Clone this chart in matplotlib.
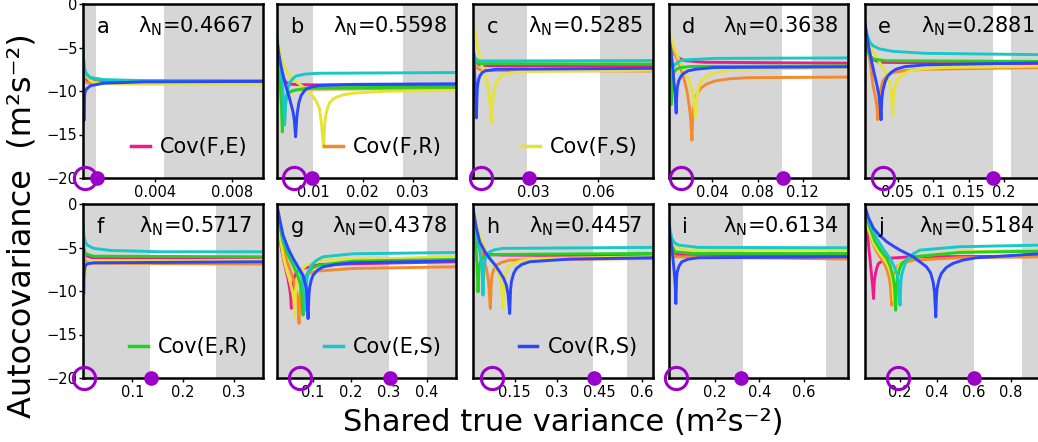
import matplotlib.pyplot as plt
from matplotlib.lines import Line2D

# series shared by every panel
pairs = ["FE", "FR", "FS", "ER", "ES", "RS"]
pair_labels = ["Cov(F,E)", "Cov(F,R)", "Cov(F,S)", "Cov(E,R)", "Cov(E,S)", "Cov(R,S)"]
pair_colors = ["#f0198c", "#f58a2c", "#e6e23a", "#23d21e", "#18c8c8", "#2a46ff"]

letters = ["a", "b", "c", "d", "e", "f", "g", "h", "i", "j"]
lambda_n = ["0.4667", "0.5598", "0.5285", "0.3638", "0.2881",
            "0.5717", "0.4378", "0.4457", "0.6134", "0.5184"]
x_limits = [(0.00026, 0.0096), (0.0028, 0.0388), (0.0023, 0.0851), (0.0012, 0.160),
            (0.0033, 0.256), (0.003, 0.356), (0.0047, 0.479), (0.002, 0.639),
            (-0.0067, 0.798), (0.008, 0.979)]
x_ticks = [[0.004, 0.008], [0.01, 0.02, 0.03], [0.03, 0.06], [0.04, 0.08, 0.12],
           [0.05, 0.1, 0.15, 0.2], [0.1, 0.2, 0.3], [0.1, 0.2, 0.3, 0.4],
           [0.15, 0.3, 0.45, 0.6], [0.2, 0.4, 0.6], [0.2, 0.4, 0.6, 0.8]]
x_tick_labels = [["0.004", "0.008"], ["0.01", "0.02", "0.03"], ["0.03", "0.06"],
                 ["0.04", "0.08", "0.12"], ["0.05", "0.1", "0.15", "0.2"],
                 ["0.1", "0.2", "0.3"], ["0.1", "0.2", "0.3", "0.4"],
                 ["0.15", "0.3", "0.45", "0.6"], ["0.2", "0.4", "0.6"],
                 ["0.2", "0.4", "0.6", "0.8"]]
# unshaded interval of each panel
white_bands = [(0.00093, 0.00447), (0.0100, 0.0280), (0.0274, 0.0609), (0.102, 0.128),
               (0.184, 0.209), (0.135, 0.264), (0.30, 0.40), (0.429, 0.55),
               (0.328, 0.70), (0.60, 0.858)]
open_mark = [0.00038, 0.0063, 0.0062, 0.0119, 0.0299, 0.0043, 0.0665, 0.0707, 0.0277, 0.191]
filled_mark = [0.00097, 0.0099, 0.0282, 0.1028, 0.1841, 0.1363, 0.303, 0.4306, 0.3198, 0.603]
# panel letter -> series named in its legend
legend_pair = {"a": 0, "b": 1, "c": 2, "f": 3, "g": 4, "h": 5}

curves_a = {
    "FE": ([0.00026, 0.00033, 0.00043, 0.00064, 0.00134, 0.0096],
           [-7.2, -8.3, -8.7, -8.9, -9.0, -9.0]),
    "FR": ([0.00026, 0.00033, 0.00043, 0.00064, 0.00134, 0.0096],
           [-7.8, -8.7, -9.0, -9.1, -9.15, -9.15]),
    "FS": ([0.00026, 0.00031, 0.00043, 0.00064, 0.00082, 0.00134, 0.0034, 0.0096],
           [-6.8, -7.6, -8.3, -8.8, -9.0, -9.15, -9.2, -9.2]),
    "ER": ([0.00026, 0.00029, 0.00033, 0.00043, 0.00064, 0.00134, 0.0034, 0.0096],
           [-4.8, -6.2, -7.3, -8.0, -8.5, -8.75, -8.85, -8.9]),
    "ES": ([0.00026, 0.00029, 0.00033, 0.00043, 0.00064, 0.00134, 0.0034, 0.0096],
           [-5.6, -6.6, -7.5, -8.1, -8.45, -8.7, -8.8, -8.8]),
    "RS": ([0.00026, 0.00029, 0.00031, 0.00033, 0.00036, 0.00043, 0.00064, 0.00134, 0.0034, 0.0096],
           [-6.6, -10.0, -13.4, -11.0, -10.2, -9.8, -9.4, -9.1, -8.95, -8.9]),
}
curves_b = {
    "FE": ([0.0028, 0.0034, 0.0040, 0.0046, 0.00533, 0.007, 0.01133, 0.03867],
           [-5.4, -7.4, -8.5, -9.0, -9.2, -9.27, -9.3, -9.3]),
    "FR": ([0.0028, 0.0032, 0.00367, 0.0040, 0.00427, 0.00445, 0.00467, 0.005, 0.00533, 0.0065, 0.008, 0.03867],
           [-5.0, -7.2, -9.2, -10.8, -13.3, -11.6, -10.8, -10.35, -10.1, -9.9, -9.8, -9.7]),
    "FS": ([0.0028, 0.0034, 0.0040, 0.0050, 0.0060, 0.0073, 0.00867, 0.0097, 0.01067, 0.0113, 0.01167,
            0.01213, 0.01235, 0.01253, 0.0129, 0.01333, 0.014, 0.01467, 0.016, 0.018, 0.02467, 0.03867],
           [-3.8, -5.6, -6.9, -8.0, -8.66, -9.2, -9.83, -10.4, -11.18, -12.0, -13.5,
            -16.43, -14.0, -12.93, -12.0, -11.38, -10.95, -10.72, -10.45, -10.25, -10.02, -9.94]),
    "ER": ([0.0028, 0.0031, 0.00347, 0.0037, 0.00387, 0.004, 0.00413, 0.0044, 0.00467, 0.0052, 0.0060, 0.00933, 0.03867],
           [-4.6, -7.0, -9.6, -11.8, -14.7, -12.9, -12.0, -11.1, -10.6, -10.2, -9.94, -9.63, -9.55]),
    "ES": ([0.0028, 0.0033, 0.00387, 0.0041, 0.00433, 0.0045, 0.00467, 0.0050, 0.00533, 0.006, 0.00667, 0.0085, 0.01133, 0.03867],
           [-3.8, -6.5, -9.24, -11.0, -13.9, -11.8, -10.8, -9.8, -9.05, -8.55, -8.27, -8.05, -7.96, -7.88]),
    "RS": ([0.0028, 0.0032, 0.00367, 0.0042, 0.00467, 0.0053, 0.0060, 0.0063, 0.00653, 0.0068, 0.0072,
            0.00767, 0.0082, 0.00867, 0.0100, 0.01133, 0.018, 0.03867],
           [-4.2, -5.9, -7.3, -8.6, -9.63, -10.8, -12.35, -13.5, -15.26, -12.8, -11.3,
            -10.49, -10.05, -9.79, -9.5, -9.36, -9.24, -9.17]),
}
curves_c = {
    "FE": ([0.0023, 0.003, 0.00385, 0.00539, 0.01, 0.0851], [-5.4, -6.2, -6.7, -7.0, -7.1, -7.15]),
    "FR": ([0.0023, 0.003, 0.00385, 0.0055, 0.01, 0.0851], [-6.1, -6.9, -7.3, -7.55, -7.65, -7.7]),
    "FS": ([0.00262, 0.0032, 0.00385, 0.0046, 0.00539, 0.0065, 0.0077, 0.0088, 0.0097, 0.0103, 0.01077,
            0.0111, 0.01154, 0.0122, 0.01308, 0.0145, 0.0162, 0.02, 0.02385, 0.0851],
           [-1.9, -3.2, -4.2, -5.2, -6.1, -7.2, -8.1, -9.0, -10.4, -11.8, -13.7,
            -12.0, -10.8, -9.8, -9.05, -8.5, -8.16, -7.9, -7.77, -7.6]),
    "ER": ([0.0023, 0.003, 0.00385, 0.0055, 0.0851], [-5.75, -6.4, -6.7, -6.85, -6.9]),
    "ES": ([0.0023, 0.0027, 0.00309, 0.004, 0.00539, 0.01, 0.0851], [-5.0, -5.7, -6.1, -6.4, -6.55, -6.55, -6.5]),
    "RS": ([0.0023, 0.0026, 0.00293, 0.00325, 0.00355, 0.00385, 0.0041, 0.00431, 0.0048, 0.00539, 0.0065,
            0.0077, 0.01308, 0.0851],
           [-4.2, -5.6, -7.3, -9.0, -11.2, -13.1, -10.9, -9.6, -8.8, -8.3, -7.9, -7.7, -7.5, -7.4]),
}
curves_d = {
    "FE": ([0.0012, 0.003, 0.00652, 0.01, 0.0154, 0.0332, 0.160], [-3.4, -4.7, -5.75, -6.2, -6.5, -6.7, -6.8]),
    "FR": ([0.0012, 0.005, 0.00948, 0.0125, 0.0154, 0.0178, 0.01985, 0.0209, 0.02193, 0.0225, 0.02311,
            0.0242, 0.02578, 0.028, 0.03022, 0.035, 0.04207, 0.055, 0.0717, 0.160],
           [-3.4, -5.2, -6.5, -7.6, -8.85, -10.2, -12.0, -13.3, -15.65, -13.5, -12.35,
            -11.3, -10.6, -10.0, -9.63, -9.2, -8.85, -8.6, -8.47, -8.4]),
    "FS": ([0.0012, 0.005, 0.00948, 0.014, 0.01837, 0.0208, 0.02281, 0.0239, 0.02489, 0.0254, 0.02607,
            0.0278, 0.03022, 0.035, 0.04207, 0.055, 0.0717, 0.160],
           [-2.64, -4.6, -6.14, -7.4, -8.47, -9.3, -10.4, -11.4, -12.93, -11.6, -10.8,
            -9.6, -8.85, -8.3, -7.88, -7.65, -7.5, -7.3]),
    "ER": ([0.0012, 0.0018, 0.00237, 0.003, 0.00356, 0.0041, 0.00474, 0.006, 0.008, 0.012, 0.02133, 0.160],
           [-3.8, -5.5, -7.3, -9.2, -11.57, -9.6, -8.47, -7.9, -7.5, -7.3, -7.18, -7.11]),
    "ES": ([0.0012, 0.00356, 0.00504, 0.00652, 0.01244, 0.04207, 0.160],
           [-3.0, -5.75, -7.3, -7.0, -6.45, -6.25, -6.2]),
    "RS": ([0.0012, 0.0024, 0.00356, 0.0048, 0.00593, 0.007, 0.008, 0.0084, 0.00889, 0.0103, 0.01244,
            0.015, 0.01837, 0.025, 0.04207, 0.160],
           [-3.2, -4.6, -5.75, -7.2, -8.85, -10.4, -12.54, -10.8, -9.63, -8.8, -8.27,
            -7.95, -7.69, -7.5, -7.3, -7.22]),
}
curves_e = {
    "FE": ([0.0033, 0.0068, 0.0103, 0.016, 0.0243, 0.256], [-3.4, -4.9, -5.9, -6.4, -6.7, -6.9]),
    "FR": ([0.0033, 0.0068, 0.0103, 0.0127, 0.015, 0.0174, 0.0196, 0.021, 0.022, 0.023, 0.0243,
            0.0265, 0.029, 0.035, 0.043, 0.06, 0.0897, 0.256],
           [-3.0, -4.8, -6.1, -7.6, -9.24, -10.2, -11.2, -12.0, -13.3, -11.6, -10.8,
            -9.7, -8.85, -8.25, -7.88, -7.65, -7.5, -7.3]),
    "FS": ([0.0033, 0.009, 0.015, 0.022, 0.029, 0.034, 0.0383, 0.041, 0.043, 0.0438, 0.0449,
            0.047, 0.05, 0.057, 0.0664, 0.085, 0.1131, 0.256],
           [-3.0, -4.4, -5.36, -6.4, -7.3, -8.0, -8.85, -10.0, -12.93, -11.0, -10.0,
            -9.3, -8.66, -8.1, -7.69, -7.45, -7.3, -7.15]),
    "ER": ([0.0033, 0.0055, 0.008, 0.011, 0.015, 0.0336, 0.256], [-2.64, -4.3, -5.36, -5.95, -6.33, -6.52, -6.6]),
    "ES": ([0.0033, 0.0055, 0.008, 0.011, 0.015, 0.0243, 0.043, 0.0897, 0.256],
           [-1.86, -3.0, -3.8, -4.4, -4.78, -5.16, -5.44, -5.67, -5.83]),
    "RS": ([0.0033, 0.0068, 0.0103, 0.0138, 0.0173, 0.0205, 0.0234, 0.0252, 0.0266, 0.0276, 0.029,
            0.032, 0.036, 0.041, 0.0477, 0.06, 0.0897, 0.256],
           [-1.86, -3.8, -5.36, -6.8, -8.08, -9.2, -10.4, -11.5, -13.3, -11.0, -10.0,
            -9.0, -8.27, -7.85, -7.5, -7.2, -6.99, -6.76]),
}
curves_f = {
    "FE": ([0.003, 0.0076, 0.02, 0.356], [-4.7, -5.9, -6.15, -6.26]),
    "FR": ([0.003, 0.0076, 0.02, 0.356], [-5.1, -6.6, -6.8, -6.9]),
    "FS": ([0.003, 0.0037, 0.0043, 0.005, 0.0056, 0.0062, 0.0069, 0.0085, 0.0109, 0.02, 0.0571, 0.356],
           [-5.5, -6.5, -7.8, -8.9, -10.5, -8.6, -7.8, -7.2, -6.83, -6.65, -6.56, -6.45]),
    "ER": ([0.003, 0.005, 0.0076, 0.0241, 0.356], [-4.3, -5.2, -5.7, -6.0, -6.07]),
    "ES": ([0.003, 0.0042, 0.0056, 0.008, 0.0109, 0.0241, 0.0571, 0.1561, 0.356],
           [-2.4, -3.3, -3.95, -4.4, -4.72, -5.1, -5.34, -5.49, -5.49]),
    "RS": ([0.003, 0.0033, 0.0036, 0.004, 0.0043, 0.0049, 0.0056, 0.0068, 0.0083, 0.013, 0.0241, 0.356],
           [-4.7, -5.8, -7.4, -8.6, -10.3, -8.6, -7.8, -7.3, -7.0, -6.85, -6.76, -6.64]),
}
curves_g = {
    "FE": ([0.0047, 0.0105, 0.0162, 0.023, 0.0294, 0.034, 0.0382, 0.0405, 0.0426, 0.0445, 0.0471,
            0.051, 0.0559, 0.0735, 0.1176, 0.479],
           [-1.27, -3.4, -5.1, -6.6, -7.8, -8.7, -9.7, -10.5, -12.0, -9.8, -8.94,
            -8.3, -7.87, -7.41, -6.95, -6.64]),
    "FR": ([0.0047, 0.013, 0.0206, 0.03, 0.0382, 0.0475, 0.0559, 0.06, 0.0629, 0.0652, 0.0674,
            0.072, 0.0779, 0.09, 0.1088, 0.2059, 0.479],
           [-0.9, -3.2, -5.1, -6.5, -7.41, -8.6, -10.1, -11.3, -13.74, -10.7, -9.71,
            -8.9, -8.37, -7.95, -7.72, -7.41, -7.22]),
    "FS": ([0.0047, 0.013, 0.0206, 0.027, 0.0338, 0.04, 0.0453, 0.049, 0.0515, 0.0535, 0.0559,
            0.06, 0.0647, 0.0824, 0.1265, 0.479],
           [-1.07, -3.8, -5.87, -7.1, -8.18, -9.1, -10.1, -11.0, -12.98, -10.2, -9.33,
            -8.45, -7.79, -7.02, -6.45, -6.07]),
    "ER": ([0.0047, 0.013, 0.0206, 0.034, 0.0471, 0.056, 0.0647, 0.07, 0.0735, 0.0757, 0.0779,
            0.082, 0.0868, 0.1, 0.1176, 0.2059, 0.479],
           [-0.69, -2.7, -4.34, -5.9, -7.02, -7.9, -8.94, -10.0, -12.78, -10.2, -9.33,
            -8.4, -7.79, -7.3, -7.02, -6.56, -6.37]),
    "ES": ([0.0047, 0.013, 0.0206, 0.034, 0.0471, 0.058, 0.0691, 0.075, 0.0797, 0.082, 0.0841,
            0.0895, 0.0956, 0.11, 0.1265, 0.2059, 0.479],
           [-0.5, -2.4, -3.95, -5.3, -6.26, -7.2, -8.18, -9.3, -12.21, -9.5, -8.56,
            -7.6, -7.02, -6.45, -6.07, -5.72, -5.57]),
    "RS": ([0.0047, 0.013, 0.0206, 0.034, 0.0471, 0.06, 0.0735, 0.0824, 0.0868, 0.089, 0.0912,
            0.0955, 0.1, 0.112, 0.1265, 0.16, 0.2059, 0.479],
           [-0.12, -2.0, -3.57, -5.1, -6.26, -7.2, -8.18, -9.71, -13.17, -10.5, -9.52,
            -8.7, -8.18, -7.6, -7.22, -6.95, -6.76, -6.53]),
}
curves_h = {
    "FE": ([0.002, 0.01, 0.0198, 0.028, 0.0375, 0.06, 0.1086, 0.639],
           [-1.27, -3.2, -4.72, -5.3, -5.68, -5.8, -5.87, -5.99]),
    "FR": ([0.002, 0.014, 0.0257, 0.038, 0.0494, 0.057, 0.0636, 0.0665, 0.0695, 0.077, 0.0849, 0.105, 0.1322, 0.639],
           [-0.88, -3.1, -4.72, -6.1, -7.41, -8.8, -12.02, -9.3, -8.18, -7.45, -7.02, -6.7, -6.45, -6.26]),
    "FS": ([0.002, 0.02, 0.0375, 0.06, 0.0849, 0.095, 0.1026, 0.1086, 0.1115, 0.1145, 0.122,
            0.1322, 0.17, 0.227, 0.639],
           [-0.69, -3.0, -4.72, -6.2, -7.41, -8.2, -9.33, -12.02, -9.5, -8.56, -7.6,
            -7.02, -6.55, -6.26, -6.07]),
    "ER": ([0.002, 0.007, 0.0115, 0.016, 0.0198, 0.0227, 0.0257, 0.031, 0.0375, 0.055, 0.0849, 0.639],
           [-1.27, -3.2, -4.72, -6.8, -10.1, -7.9, -7.02, -6.45, -6.07, -5.9, -5.8, -5.68]),
    "ES": ([0.002, 0.011, 0.0198, 0.026, 0.0316, 0.0345, 0.0375, 0.0405, 0.0434, 0.05, 0.0612, 0.08, 0.1086, 0.639],
           [-0.88, -2.9, -4.34, -5.5, -6.64, -7.8, -10.48, -7.6, -6.64, -5.95, -5.49, -5.25, -5.1, -4.99]),
    "RS": ([0.002, 0.013, 0.0257, 0.043, 0.0612, 0.08, 0.0967, 0.11, 0.1204, 0.1265, 0.1322,
            0.1352, 0.1382, 0.146, 0.1559, 0.175, 0.2033, 0.3454, 0.639],
           [-0.5, -2.6, -4.34, -5.4, -6.26, -7.0, -7.79, -8.5, -9.33, -10.4, -12.59,
            -9.9, -8.94, -8.0, -7.41, -6.95, -6.64, -6.33, -6.18]),
}
curves_i = {
    "FE": ([-0.0037, 0.008, 0.0232, 0.798], [-4.34, -5.3, -5.8, -5.87]),
    "FR": ([-0.0037, 0.008, 0.0232, 0.798], [-4.72, -5.6, -6.07, -6.33]),
    "FS": ([-0.0037, 0.005, 0.0157, 0.0682, 0.798], [-2.8, -4.0, -4.72, -5.3, -5.3]),
    "ER": ([-0.0037, 0.008, 0.0232, 0.0981, 0.798], [-3.57, -4.8, -5.49, -5.68, -5.68]),
    "ES": ([-0.0037, 0.002, 0.0083, 0.02, 0.0382, 0.1281, 0.798], [-2.03, -3.2, -3.95, -4.45, -4.72, -4.99, -5.03]),
    "RS": ([-0.0067, 0.001, 0.0083, 0.0145, 0.0202, 0.0235, 0.0262, 0.0292, 0.0322, 0.041, 0.0532, 0.08, 0.1281, 0.798],
           [-2.23, -3.8, -5.1, -6.6, -8.18, -9.4, -11.44, -8.7, -7.79, -7.1, -6.64, -6.35, -6.18, -6.07]),
}
curves_j = {
    "FE": ([0.0084, 0.019, 0.0299, 0.039, 0.0478, 0.0525, 0.0567, 0.061, 0.0657, 0.074, 0.0836, 0.1284, 0.2537, 0.979],
           [-0.5, -2.8, -4.72, -6.6, -8.56, -9.5, -10.86, -8.9, -8.18, -7.4, -6.83, -6.26, -6.07, -5.99]),
    "FR": ([0.0084, 0.032, 0.0567, 0.083, 0.1105, 0.128, 0.1427, 0.149, 0.1552, 0.1597, 0.1642,
            0.177, 0.191, 0.23, 0.2716, 0.5224, 0.979],
           [-1.27, -3.2, -4.72, -5.8, -6.64, -7.5, -8.56, -9.6, -11.63, -9.4, -8.56,
            -7.6, -7.02, -6.7, -6.45, -6.18, -6.07]),
    "FS": ([0.0084, 0.032, 0.0567, 0.088, 0.1194, 0.14, 0.1552, 0.161, 0.166, 0.1705, 0.1749,
            0.187, 0.2, 0.235, 0.2716, 0.5224, 0.979],
           [-1.07, -3.0, -4.53, -5.6, -6.45, -7.3, -8.37, -9.3, -11.06, -9.1, -8.37,
            -7.5, -6.83, -6.4, -6.07, -5.49, -5.3]),
    "ER": ([0.0084, 0.037, 0.0657, 0.097, 0.1284, 0.148, 0.1642, 0.171, 0.1767, 0.181, 0.1857,
            0.197, 0.209, 0.24, 0.2716, 0.5224, 0.979],
           [-0.88, -2.7, -4.34, -5.4, -6.26, -7.2, -8.56, -9.7, -12.21, -9.6, -8.56,
            -7.5, -6.83, -6.35, -6.07, -5.57, -5.41]),
    "ES": ([0.0084, 0.04, 0.0746, 0.11, 0.1463, 0.167, 0.1857, 0.193, 0.2, 0.2045, 0.209,
            0.222, 0.2358, 0.27, 0.3075, 0.5224, 0.979],
           [-0.69, -2.4, -3.95, -5.2, -6.26, -7.1, -8.18, -9.2, -11.63, -9.1, -8.18,
            -7.2, -6.45, -5.75, -5.3, -4.91, -4.72]),
    "RS": ([0.0084, 0.03, 0.0567, 0.09, 0.1284, 0.165, 0.2, 0.2716, 0.3433, 0.365, 0.3791,
            0.387, 0.3934, 0.397, 0.4006, 0.411, 0.4239, 0.45, 0.4866, 0.54, 0.6119, 0.979],
           [-0.12, -1.6, -2.8, -3.6, -4.34, -4.85, -5.3, -6.07, -7.22, -7.9, -8.94,
            -10.2, -12.98, -10.8, -9.71, -8.7, -7.98, -7.3, -6.83, -6.45, -6.18, -5.68]),
}
all_curves = [curves_a, curves_b, curves_c, curves_d, curves_e,
              curves_f, curves_g, curves_h, curves_i, curves_j]

shade = "#d6d6d6"
purple = "#9a00c8"
tick_font = ["Liberation Sans Narrow", "DejaVu Sans"]

W, H = 1038, 442
fig = plt.figure(figsize=(W / 100, H / 100), dpi=100)

col_left = [83, 277, 473, 668.5, 864.5]
row_top = [4, 204]
panel_w, panel_h = 179.5, 174

for k, letter in enumerate(letters):
    r, c = divmod(k, 5)
    ax = fig.add_axes([col_left[c] / W, 1 - (row_top[r] + panel_h) / H,
                       panel_w / W, panel_h / H])
    x0, x1 = x_limits[k]
    w0, w1 = white_bands[k]
    ax.axvspan(x0, w0, color=shade, lw=0, zorder=0)
    ax.axvspan(w1, x1, color=shade, lw=0, zorder=0)

    curves = all_curves[k]
    for p, col in zip(pairs, pair_colors):
        xs, ys = curves[p]
        ax.plot(xs, ys, color=col, lw=2.1, solid_joinstyle="round",
                solid_capstyle="round", zorder=2)

    ax.plot([open_mark[k]], [-20], "o", ms=16, mfc="none", mec=purple, mew=2.2,
            clip_on=False, zorder=5)
    ax.plot([filled_mark[k]], [-20], "o", ms=9.5, color=purple,
            clip_on=False, zorder=5)

    ax.set_xlim(x0, x1)
    ax.set_ylim(-20, 0)
    ax.set_xticks(x_ticks[k])
    ax.set_xticklabels(x_tick_labels[k], family=tick_font, fontsize=10.5)
    ax.tick_params(axis="x", direction="out", length=3, width=1, pad=2)
    if c == 0:
        ax.set_yticks([-20, -15, -10, -5, 0])
        ax.set_yticklabels(["−20", "−15", "−10", "−5", "0"], family=tick_font, fontsize=10.5)
        ax.tick_params(axis="y", direction="out", length=3, width=1, pad=1)
    else:
        ax.set_yticks([])
    for s in ax.spines.values():
        s.set_linewidth(1.8)

    ax.text(0.075, 0.835, letter, transform=ax.transAxes, fontsize=15, va="baseline")
    ax.text(0.945, 0.835, r"λ$_\mathregular{N}$=" + lambda_n[k], transform=ax.transAxes,
            fontsize=15, va="baseline", ha="right")

    if letter in legend_pair:
        i = legend_pair[letter]
        h = Line2D([], [], color=pair_colors[i], lw=2.5)
        ax.legend([h], [pair_labels[i]], loc="lower right", frameon=False,
                  fontsize=15, handlelength=0.9, handletextpad=0.5,
                  bbox_to_anchor=(1.0, 0.035), borderaxespad=0.3)

fig.text(0.021, 0.49, "Autocovariance  (m²s⁻²)", rotation=90, fontsize=23,
         ha="center", va="center")
fig.text(0.543, 0.045, "Shared true variance (m²s⁻²)", fontsize=22,
         ha="center", va="center")

fig.savefig("out.png", dpi=100)
